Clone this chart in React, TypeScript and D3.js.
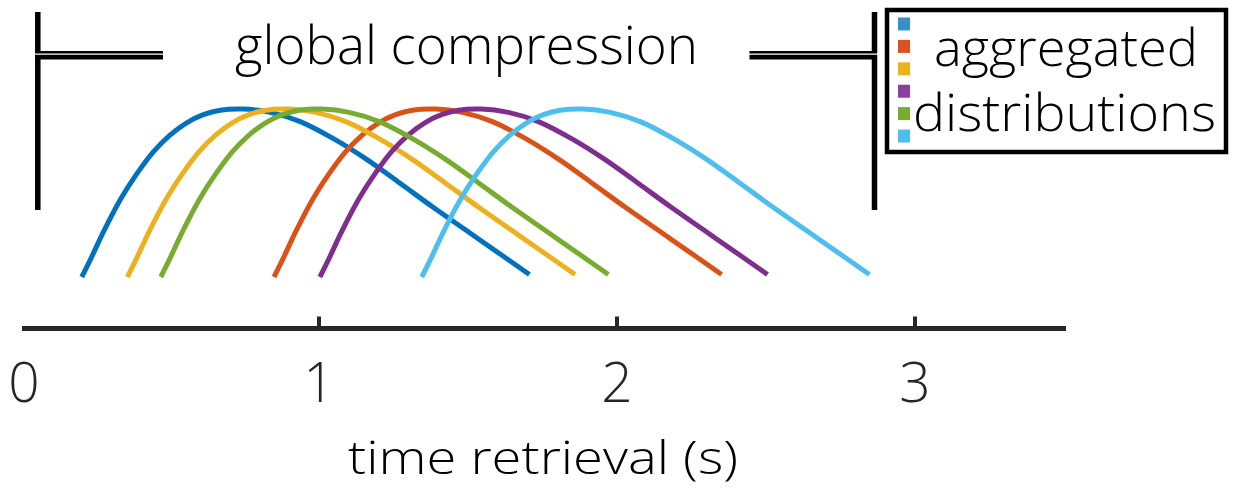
import React from "react";
import * as d3 from "d3";

// ---- data ----
const seriesNames = ["dist1", "dist2", "dist3", "dist4", "dist5", "dist6"];
const seriesColors = ["#0072BD", "#D95319", "#EDB120", "#7E2F8E", "#77AC30", "#4DBEEE"];
const legendColors = ["#3A8FCB", "#D9531E", "#EDB120", "#8E3E9E", "#77AC30", "#4DBEEE"];
// onset time (s) of each distribution
const onsets = [0.204, 0.849, 0.357, 1.003, 0.469, 1.345];
// shared profile: time after onset (s) and relative height
const profileT = [0, 0.028, 0.073, 0.129, 0.185, 0.24, 0.296, 0.352, 0.408, 0.464, 0.542, 0.632, 0.733, 0.843, 0.956, 1.068, 1.179, 1.292, 1.405, 1.502];
const profileH = [0, 0.1, 0.27, 0.46, 0.615, 0.745, 0.845, 0.918, 0.966, 0.993, 1.0, 0.98, 0.925, 0.825, 0.7, 0.558, 0.415, 0.275, 0.135, 0.015];
const xTicks = [0, 1, 2, 3];
const xDomain = [0, 3.5];
const titleText = "global compression";
const xLabel = "time retrieval (s)";
const legendLines = ["aggregated", "distributions"];

const W = 1236;
const H = 494;
const FONT = "'Open Sans', 'Noto Sans', sans-serif";
const WEIGHT = 350;

export default function App() {
  const x = d3.scaleLinear().domain(xDomain).range([21, 1064]);
  const y = d3.scaleLinear().domain([0, 1]).range([277, 109]);
  const line = d3
    .line<[number, number]>()
    .x((d) => x(d[0]))
    .y((d) => y(d[1]))
    .curve(d3.curveCatmullRom.alpha(0.5));

  const axisY = 328.5;
  const legendSq = d3.scaleBand().domain(seriesNames).range([13, 147]).paddingInner(0.42).paddingOuter(0.2);

  return (
    <svg width={W} height={H} style={{ position: "absolute", left: 0, top: 0, background: "#fff" }}>
      <rect x={0} y={0} width={W} height={H} fill="#fff" />
      {/* brackets */}
      <g stroke="#000" fill="none">
        {/* left */}
        <line x1={37.8} y1={12} x2={37.8} y2={52.5} strokeWidth={5.5} />
        <line x1={35} y1={52.2} x2={163} y2={52.2} strokeWidth={2.4} />
        <line x1={35} y1={57.2} x2={163} y2={57.2} strokeWidth={4.8} />
        <line x1={37.8} y1={55} x2={37.8} y2={210} strokeWidth={5.5} />
        {/* right */}
        <line x1={874.5} y1={12} x2={874.5} y2={52.5} strokeWidth={5.5} />
        <line x1={749.5} y1={52.2} x2={877} y2={52.2} strokeWidth={2.4} />
        <line x1={749.5} y1={57.2} x2={877} y2={57.2} strokeWidth={4.8} />
        <line x1={874.5} y1={55} x2={874.5} y2={210} strokeWidth={5.5} />
      </g>
      <text
        x={466.5}
        y={63.5}
        fontFamily={FONT}
        fontSize={54}
        fontWeight={WEIGHT}
        textAnchor="middle"
        fill="#000"
        textLength={463}
        lengthAdjust="spacingAndGlyphs"
      >
        {titleText}
      </text>

      {/* legend */}
      <rect x={887} y={10} width={339} height={142} fill="#fff" stroke="#000" strokeWidth={4.5} />
      {seriesNames.map((s, i) => (
        <rect key={s} x={898} y={legendSq(s)!} width={12} height={legendSq.bandwidth()} fill={legendColors[i]} />
      ))}
      <text x={934} y={65.5} fontFamily={FONT} fontSize={52} fontWeight={WEIGHT} fill="#000" textLength={264} lengthAdjust="spacingAndGlyphs">
        {legendLines[0]}
      </text>
      <text x={913} y={130.5} fontFamily={FONT} fontSize={52} fontWeight={WEIGHT} fill="#000" textLength={303} lengthAdjust="spacingAndGlyphs">
        {legendLines[1]}
      </text>

      {/* curves */}
      {seriesNames.map((s, i) => {
        const pts: [number, number][] = profileT.map((t, k) => [onsets[i] + t, profileH[k]]);
        return <path key={s} d={line(pts)!} fill="none" stroke={seriesColors[i]} strokeWidth={5} strokeLinecap="butt" />;
      })}

      {/* x axis */}
      <line x1={x(xDomain[0]) + 1} y1={axisY} x2={x(xDomain[1]) + 2} y2={axisY} stroke="#262626" strokeWidth={5} />
      {xTicks.map((t) =>
        t === 0 ? null : (
          <line key={"tk" + t} x1={x(t)} y1={axisY} x2={x(t)} y2={316.5} stroke="#262626" strokeWidth={4} />
        )
      )}
      {xTicks.map((t) => (
        <text
          key={"tl" + t}
          x={x(t) + (t === 0 ? 3 : 0)}
          y={402}
          fontFamily={FONT}
          fontSize={55}
          fontWeight={WEIGHT}
          textAnchor="middle"
          fill="#262626"
        >
          {t}
        </text>
      ))}
      <text
        x={543}
        y={474}
        fontFamily={FONT}
        fontSize={46}
        fontWeight={WEIGHT}
        textAnchor="middle"
        fill="#000"
        textLength={390}
        lengthAdjust="spacingAndGlyphs"
      >
        {xLabel}
      </text>
    </svg>
  );
}
